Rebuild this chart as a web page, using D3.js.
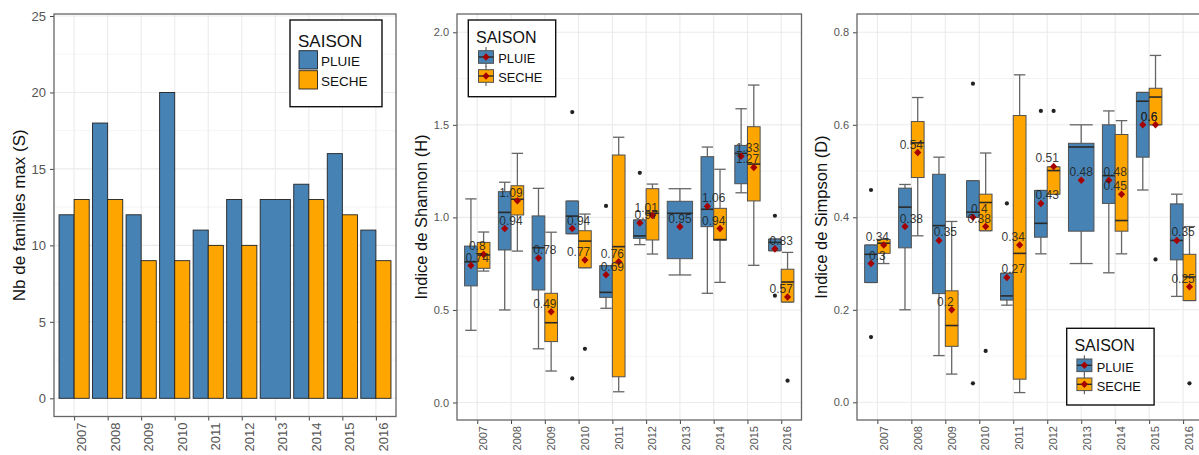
<!DOCTYPE html>
<html><head><meta charset="utf-8">
<script src="https://cdn.jsdelivr.net/npm/d3@7"></script>
<style>body{margin:0;background:#fff} text{font-family:"Liberation Sans",Arial,sans-serif}</style>
</head><body><svg id="c" width="1199" height="455"></svg>
<script>
// ---------- DATA ----------
const years = ["2007","2008","2009","2010","2011","2012","2013","2014","2015","2016"];
const seasons = ["PLUIE","SECHE"];
const seasonColors = ["#4682B4","#FFA500"];

// Panel 1: max number of families
const barPluie = [12,18,12,20,11,13,13,14,16,11];
const barSeche = [13,13,9,9,10,10,null,13,12,9];
const barTicks = [0,5,10,15,20,25];

// Panel 2: Shannon — [lower whisker, Q1, median, Q3, upper whisker]
const shannonPluieBox = [
  [0.39,0.63,0.76,0.845,1.10],[0.50,0.824,1.027,1.139,1.19],[0.29,0.608,0.836,1.008,1.157],
  [0.912,0.912,1.007,1.088,1.088],[0.509,0.568,0.595,0.739,0.739],[0.853,0.887,0.90,0.986,0.986],
  [0.689,0.777,1.022,1.087,1.155],[0.59,0.95,1.044,1.328,1.38],[1.133,1.182,1.346,1.389,1.587],
  [0.82,0.82,0.865,0.883,0.883]];
const shannonSecheBox = [
  [0.71,0.725,0.797,0.865,0.921],[0.818,1.013,1.098,1.171,1.346],[0.17,0.329,0.431,0.59,0.92],
  [0.728,0.728,0.872,0.928,1.018],[0.058,0.139,0.842,1.337,1.433],[0.802,0.878,1.022,1.155,1.18],
  null,[0.649,0.877,0.88,1.049,1.26],[0.741,1.089,1.288,1.49,1.715],[0.543,0.543,0.651,0.72,0.811]];
const shannonPluieMean = [0.74,0.94,0.78,0.94,0.69,0.97,0.95,1.06,1.33,0.83];
const shannonSecheMean = [0.80,1.09,0.49,0.77,0.76,1.01,null,0.94,1.27,0.57];
const shannonPluieOut = [[],[],[],[1.569,0.13],[1.062],[1.241],[],[],[],[1.009,0.577]];
const shannonSecheOut = [[],[],[],[0.29],[],[],[],[],[],[0.118]];
const shannonTicks = [0,0.5,1,1.5,2];
const shannonMinor = [0.25,0.75,1.25,1.75];

// Panel 3: Simpson — [lower whisker, Q1, median, Q3, upper whisker]
const simpsonPluieBox = [
  [0.259,0.259,0.32,0.34,0.34],[0.20,0.334,0.422,0.463,0.471],[0.101,0.235,0.382,0.493,0.53],
  [0.40,0.40,0.411,0.479,0.479],[0.21,0.221,0.23,0.279,0.279],[0.321,0.357,0.387,0.458,0.458],
  [0.30,0.37,0.552,0.56,0.60],[0.28,0.43,0.49,0.60,0.63],[0.459,0.53,0.651,0.67,0.67],
  [0.229,0.308,0.35,0.429,0.45]];
const simpsonSecheBox = [
  [0.30,0.322,0.344,0.352,0.352],[0.36,0.486,0.561,0.607,0.659],[0.061,0.121,0.166,0.241,0.391],
  [0.371,0.371,0.432,0.45,0.539],[0.021,0.05,0.322,0.62,0.708],[0.45,0.45,0.501,0.509,0.509],
  null,[0.321,0.37,0.393,0.579,0.609],[0.60,0.60,0.66,0.679,0.75],[0.22,0.22,0.271,0.32,0.38]];
const simpsonPluieMean = [0.30,0.38,0.35,0.40,0.27,0.43,0.48,0.48,0.60,0.35];
const simpsonSecheMean = [0.34,0.54,0.20,0.38,0.34,0.51,null,0.45,0.60,0.25];
const simpsonPluieOut = [[0.459,0.141],[],[],[0.689,0.041],[0.43],[0.63],[],[],[],[]];
const simpsonSecheOut = [[],[],[],[0.111],[],[0.63],[],[],[0.309],[0.041]];
const simpsonTicks = [0,0.2,0.4,0.6,0.8];
const simpsonMinor = [0.1,0.3,0.5,0.7];

// ---------- DRAW ----------
const svg = d3.select("#c");
const FONT = '"Liberation Sans",Arial,sans-serif';

function frame(g, L, R, T, B, y, majors, minors, x, fmt, fs, title, titleX, titleFs) {
  g.append("rect").attr("x",L).attr("y",T).attr("width",R-L).attr("height",B-T).attr("fill","#fff");
  minors.forEach(v => g.append("line").attr("x1",L).attr("x2",R).attr("y1",y(v)).attr("y2",y(v))
      .attr("stroke","#F3F3F3").attr("stroke-width",0.9));
  majors.forEach(v => g.append("line").attr("x1",L).attr("x2",R).attr("y1",y(v)).attr("y2",y(v))
      .attr("stroke","#EBEBEB").attr("stroke-width",1.1));
  years.forEach(yr => g.append("line").attr("x1",x(yr)).attr("x2",x(yr)).attr("y1",T).attr("y2",B)
      .attr("stroke","#EBEBEB").attr("stroke-width",1.1));
  // y axis
  const ya = g.append("g").attr("transform",`translate(${L},0)`)
    .call(d3.axisLeft(y).tickValues(majors).tickFormat(fmt).tickSize(4).tickPadding(4));
  ya.select(".domain").remove();
  ya.selectAll("line").attr("stroke","#444");
  ya.selectAll("text").attr("fill","#555").style("font-size",fs+"px").style("font-family",FONT);
  // x axis
  const xa = g.append("g").attr("transform",`translate(0,${B})`)
    .call(d3.axisBottom(x).tickSize(4));
  xa.select(".domain").remove();
  xa.selectAll("line").attr("stroke","#444");
  xa.selectAll("text").attr("fill","#555").style("font-size",fs+"px").style("font-family",FONT)
    .attr("transform","rotate(-90)").attr("text-anchor","end")
    .attr("x",-6).attr("y",0).attr("dy","0.88em");
  // title
  g.append("text").attr("transform",`translate(${titleX},${(T+B)/2}) rotate(-90)`)
    .attr("text-anchor","middle").attr("dy","0.35em").style("font-size",titleFs+"px").attr("fill","#111")
    .text(title);
}
function border(g,L,R,T,B){
  g.append("rect").attr("x",L).attr("y",T).attr("width",R-L).attr("height",B-T)
    .attr("fill","none").attr("stroke","#666").attr("stroke-width",1.3);
}

// ----- Panel 1 -----
(function(){
  const L=54, R=396, T=14, B=416.5;
  const g = svg.append("g");
  const x = d3.scalePoint().domain(years).range([L,R]).padding(0.6);
  const step = x.step();
  const y = d3.scaleLinear().domain([0,25]).range([398.3,16]);
  const minors = d3.range(2.5,25,5);
  frame(g,L,R,T,B,y,barTicks,minors,x,d3.format("d"),13,"Nb de familles max (S)",19.5,17);
  years.forEach((yr,i)=>{
    const c = x(yr);
    const single = barSeche[i]==null;
    const w = single ? 0.9*step : 0.45*step;
    g.append("rect").attr("x", single ? c-0.45*step : c-0.45*step).attr("width",w)
      .attr("y",y(barPluie[i])).attr("height",y(0)-y(barPluie[i]))
      .attr("fill",seasonColors[0]).attr("stroke","#222").attr("stroke-width",0.9);
    if(!single) g.append("rect").attr("x",c).attr("width",w)
      .attr("y",y(barSeche[i])).attr("height",y(0)-y(barSeche[i]))
      .attr("fill",seasonColors[1]).attr("stroke","#222").attr("stroke-width",0.9);
  });
  border(g,L,R,T,B);
  // legend
  const lg = g.append("g");
  lg.append("rect").attr("x",290).attr("y",20).attr("width",92).attr("height",86.7)
    .attr("fill","#fff").attr("stroke","#111").attr("stroke-width",1.4);
  lg.append("text").attr("x",298).attr("y",46.5).style("font-size","17px").attr("fill","#111").text("SAISON");
  seasons.forEach((s,i)=>{
    lg.append("rect").attr("x",299).attr("y",50.7+i*20).attr("width",18.5).attr("height",18.3)
      .attr("fill",seasonColors[i]).attr("stroke","#222").attr("stroke-width",0.9);
    lg.append("text").attr("x",321).attr("y",65.8+i*20).style("font-size","13.5px").attr("fill","#111").text(s);
  });
})();

// ----- box panels -----
function boxPanel(o){
  const g = svg.append("g");
  const x = d3.scalePoint().domain(years).range([o.L,o.R]).padding(0.6);
  const step = x.step();
  const y = d3.scaleLinear().domain(o.dom).range(o.rng);
  frame(g,o.L,o.R,o.T,o.B,y,o.ticks,o.minor,x,d3.format(".1f"),11,o.title,o.titleX,16.5);
  const series = [
    {box:o.pBox, mean:o.pMean, out:o.pOut, col:seasonColors[0], k:0},
    {box:o.sBox, mean:o.sMean, out:o.sOut, col:seasonColors[1], k:1}];
  const geo = (i,k) => {
    const c = x(years[i]);
    if (o.sBox[i]==null) return {cx:c, w:0.75*step};
    return {cx: c + (k===0?-1:1)*0.1875*step, w:0.375*step};
  };
  series.forEach(s=>{
    s.box.forEach((b,i)=>{
      if(!b) return;
      const {cx,w} = geo(i,s.k);
      const cw = w*0.9;
      // whiskers
      g.append("line").attr("x1",cx).attr("x2",cx).attr("y1",y(b[4])).attr("y2",y(b[3])).attr("stroke","#666").attr("stroke-width",1.3);
      g.append("line").attr("x1",cx).attr("x2",cx).attr("y1",y(b[1])).attr("y2",y(b[0])).attr("stroke","#666").attr("stroke-width",1.3);
      [b[0],b[4]].forEach(v=>g.append("line").attr("x1",cx-cw/2).attr("x2",cx+cw/2).attr("y1",y(v)).attr("y2",y(v))
         .attr("stroke","#666").attr("stroke-width",1.3));
      g.append("rect").attr("x",cx-w/2).attr("width",w).attr("y",y(b[3])).attr("height",Math.max(0.5,y(b[1])-y(b[3])))
        .attr("fill",s.col).attr("stroke","#505050").attr("stroke-width",1);
      g.append("line").attr("x1",cx-w/2).attr("x2",cx+w/2).attr("y1",y(b[2])).attr("y2",y(b[2]))
        .attr("stroke","#2a2a2a").attr("stroke-width",1.6);
      s.out[i].forEach(v=>g.append("circle").attr("cx",cx).attr("cy",y(v)).attr("r",2.1).attr("fill","#222"));
    });
  });
  series.forEach(s=>{
    s.mean.forEach((m,i)=>{
      if(m==null) return;
      const {cx} = geo(i,s.k);
      g.append("path").attr("d",`M${cx},${y(m)-3.8}L${cx+3.6},${y(m)}L${cx},${y(m)+3.8}L${cx-3.6},${y(m)}Z`).attr("fill","#A50000");
    });
  });
  series.forEach(s=>{
    s.mean.forEach((m,i)=>{
      if(m==null) return;
      g.append("text").attr("x",x(years[i])).attr("y",y(m)-4).attr("text-anchor","middle")
        .style("font-size","12px").attr("fill","#222").attr("fill-opacity",0.9).text(String(+m.toFixed(2)));
    });
  });
  border(g,o.L,o.R,o.T,o.B);
  // legend
  const lx=o.lx, ly=o.ly;
  const lg = g.append("g");
  lg.append("rect").attr("x",lx).attr("y",ly).attr("width",87.4).attr("height",76.7)
    .attr("fill","#fff").attr("stroke","#111").attr("stroke-width",1.4);
  lg.append("text").attr("x",lx+7.7).attr("y",ly+22.7).style("font-size","16px").attr("fill","#111").text("SAISON");
  seasons.forEach((s,i)=>{
    const kx = lx+17.7, ky = ly+37+i*19;
    lg.append("line").attr("x1",kx).attr("x2",kx).attr("y1",ky-10).attr("y2",ky+10).attr("stroke","#666").attr("stroke-width",1.2);
    lg.append("rect").attr("x",kx-7.5).attr("y",ky-6.3).attr("width",15).attr("height",12.6)
      .attr("fill",seasonColors[i]).attr("stroke","#505050").attr("stroke-width",1);
    lg.append("line").attr("x1",kx-7.5).attr("x2",kx+7.5).attr("y1",ky).attr("y2",ky).attr("stroke","#2a2a2a").attr("stroke-width",1.4);
    lg.append("path").attr("d",`M${kx},${ky-3.8}L${kx+3.6},${ky}L${kx},${ky+3.8}L${kx-3.6},${ky}Z`).attr("fill","#A50000");
    lg.append("text").attr("x",lx+30).attr("y",ky+6.3).style("font-size","12.8px").attr("fill","#111").text(s);
  });
}

boxPanel({L:457, R:801.5, T:14, B:420, dom:[0,2], rng:[402.5,32.3], ticks:shannonTicks, minor:shannonMinor,
  title:"Indice de Shannon (H)", titleX:421, pBox:shannonPluieBox, sBox:shannonSecheBox,
  pMean:shannonPluieMean, sMean:shannonSecheMean, pOut:shannonPluieOut, sOut:shannonSecheOut, lx:468.3, ly:20});
boxPanel({L:857, R:1203.5, T:14, B:420, dom:[0,0.8], rng:[402.3,32.3], ticks:simpsonTicks, minor:simpsonMinor,
  title:"Indice de Simpson (D)", titleX:821.5, pBox:simpsonPluieBox, sBox:simpsonSecheBox,
  pMean:simpsonPluieMean, sMean:simpsonSecheMean, pOut:simpsonPluieOut, sOut:simpsonSecheOut, lx:1066.7, ly:328.3});
</script></body></html>
